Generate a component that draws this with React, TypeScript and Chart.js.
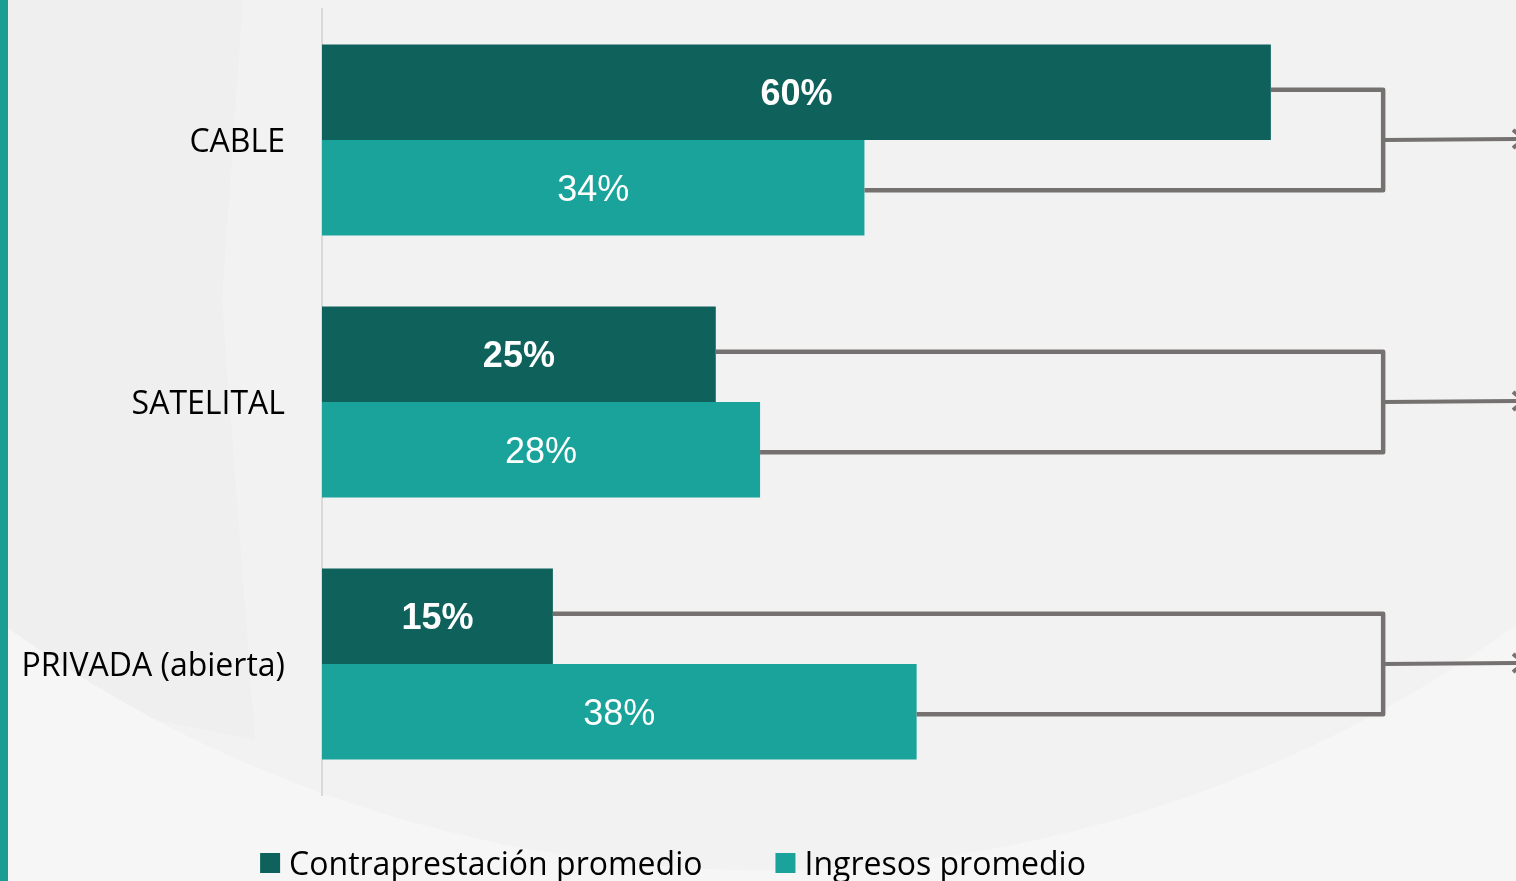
import React, { useEffect, useRef } from "react";
import { Chart, registerables } from "chart.js";

Chart.register(...registerables);

const categories = ["CABLE", "SATELITAL", "PRIVADA (abierta)"];
const contraprestacion = [60, 24.9, 14.6];
const ingresos = [34.3, 27.7, 37.6];
const seriesNames = ["Contraprestación promedio", "Ingresos promedio"];

const DARK = "#0f625c";
const LIGHT = "#1aa39a";
const LINE = "#767171";
const LABEL_FONT = "'Open Sans'";

const backgroundPlugin = {
  id: "bgPlugin",
  beforeDraw(chart: any) {
    const { ctx, width, height } = chart;
    ctx.save();
    ctx.fillStyle = "#f2f2f2";
    ctx.fillRect(0, 0, width, height);
    // subtle darker wedge at left
    ctx.fillStyle = "#efefef";
    ctx.beginPath();
    ctx.moveTo(8, 0);
    ctx.lineTo(243, 0);
    ctx.lineTo(222, 300);
    ctx.lineTo(255, 740);
    ctx.lineTo(8, 690);
    ctx.closePath();
    ctx.fill();
    // lighter region at bottom (outside a big arc)
    ctx.fillStyle = "#f6f6f6";
    ctx.beginPath();
    ctx.rect(0, 0, width, height);
    ctx.arc(760, -420, 1290, 0, Math.PI * 2, true);
    ctx.fill("evenodd");
    // teal stripe at the left edge
    ctx.fillStyle = "#1a9e94";
    ctx.fillRect(0, 0, 8, height);
    ctx.restore();
  },
};

const labelsPlugin = {
  id: "barLabels",
  afterDatasetsDraw(chart: any) {
    const { ctx } = chart;
    ctx.save();
    ctx.textAlign = "center";
    ctx.textBaseline = "middle";
    ctx.fillStyle = "#ffffff";
    chart.data.datasets.forEach((ds: any, di: number) => {
      const meta = chart.getDatasetMeta(di);
      ctx.font = (di === 0 ? "bold " : "") + "36px 'Liberation Sans', Arial, sans-serif";
      meta.data.forEach((bar: any, i: number) => {
        const cx = (bar.x + bar.base) / 2;
        ctx.fillText(Math.round(ds.data[i]) + "%", cx, bar.y + 3);
      });
    });
    ctx.restore();
  },
};

const bracketPlugin = {
  id: "brackets",
  afterDatasetsDraw(chart: any) {
    const { ctx, width } = chart;
    const xScale = chart.scales.x;
    const bx = xScale.getPixelForValue(67.1);
    const m0 = chart.getDatasetMeta(0).data;
    const m1 = chart.getDatasetMeta(1).data;
    ctx.save();
    ctx.strokeStyle = LINE;
    ctx.lineJoin = "round";
    ctx.lineCap = "butt";
    m0.forEach((d: any, i: number) => {
      const l = m1[i];
      const y0 = d.y - 2.5;
      const y1 = l.y + 2.5;
      ctx.lineWidth = 4.5;
      ctx.beginPath();
      ctx.moveTo(d.x, y0);
      ctx.lineTo(bx, y0);
      ctx.lineTo(bx, y1);
      ctx.lineTo(l.x, y1);
      ctx.stroke();
      const ym = (y0 + y1) / 2;
      ctx.lineWidth = 4;
      ctx.beginPath();
      ctx.moveTo(bx, ym);
      ctx.lineTo(width + 10, ym - 1);
      ctx.stroke();
      ctx.beginPath();
      ctx.moveTo(width - 3, ym - 10);
      ctx.lineTo(width + 8, ym - 1);
      ctx.lineTo(width - 3, ym + 8);
      ctx.stroke();
    });
    ctx.restore();
  },
};

const legendPlugin = {
  id: "customLegend",
  afterDraw(chart: any) {
    const { ctx } = chart;
    ctx.save();
    ctx.font = `32px ${LABEL_FONT}, sans-serif`;
    ctx.textBaseline = "middle";
    ctx.textAlign = "left";
    const box = 20;
    const gapText = 9;
    const gapItem = 73;
    const colors = [DARK, LIGHT];
    const widths = seriesNames.map((t) => ctx.measureText(t).width);
    const total = widths.reduce((a, w) => a + box + gapText + w, 0) + gapItem;
    let x = 673 - total / 2;
    const cy = 863;
    seriesNames.forEach((t, i) => {
      ctx.fillStyle = colors[i];
      ctx.fillRect(x, cy - box / 2, box, box);
      ctx.fillStyle = "#000000";
      ctx.fillText(t, x + box + gapText, cy + 3);
      x += box + gapText + widths[i] + gapItem;
    });
    ctx.restore();
  },
};

export default function App() {
  const ref = useRef<HTMLCanvasElement | null>(null);
  useEffect(() => {
    document.body.style.margin = "0";
    document.body.style.overflow = "hidden";
    const chart = new Chart(ref.current as HTMLCanvasElement, {
      type: "bar",
      data: {
        labels: categories,
        datasets: [
          {
            label: seriesNames[0],
            data: contraprestacion,
            backgroundColor: DARK,
            categoryPercentage: 0.729,
            barPercentage: 1,
          },
          {
            label: seriesNames[1],
            data: ingresos,
            backgroundColor: LIGHT,
            categoryPercentage: 0.729,
            barPercentage: 1,
          },
        ],
      },
      options: {
        indexAxis: "y",
        responsive: false,
        animation: false,
        devicePixelRatio: 1,
        layout: { padding: { top: 9, left: 0, right: 0, bottom: 86 } },
        plugins: {
          legend: { display: false },
          tooltip: { enabled: false },
        },
        scales: {
          x: { display: false, min: 0, max: 75.5 },
          y: {
            afterFit(scale: any) {
              scale.width = 322;
              scale.paddingTop = 0;
              scale.paddingBottom = 0;
            },
            grid: { display: false, drawTicks: false },
            border: { display: true, color: "#d9d9d9", width: 2 },
            ticks: {
              padding: 37,
              labelOffset: 3,
              color: "#000000",
              font: { family: LABEL_FONT, size: 32 },
            },
          },
        },
      },
      plugins: [backgroundPlugin, labelsPlugin, bracketPlugin, legendPlugin],
    } as any);
    return () => chart.destroy();
  }, []);
  return (
    <div style={{ position: "fixed", left: 0, top: 0, width: 1516, height: 881 }}>
      <canvas ref={ref} width={1516} height={881} />
    </div>
  );
}
